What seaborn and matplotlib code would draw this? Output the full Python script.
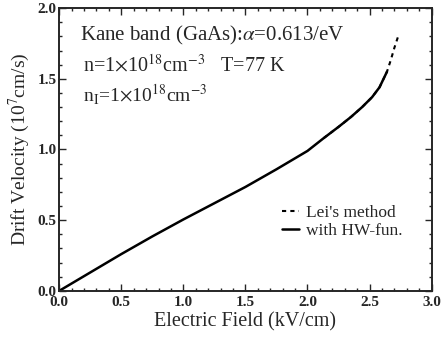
import numpy as np
import pandas as pd
import matplotlib
matplotlib.use("Agg")
import matplotlib.pyplot as plt
import seaborn as sns
from matplotlib.ticker import MultipleLocator

# values
field_hw = [0.0, 0.25, 0.5, 0.75, 1.0, 1.25, 1.5, 1.75, 2.0, 2.13, 2.25, 2.35, 2.44, 2.52, 2.58, 2.64]
vel_hw = [0.0, 0.13, 0.26, 0.385, 0.505, 0.62, 0.735, 0.86, 0.99, 1.08, 1.16, 1.23, 1.30, 1.37, 1.44, 1.55]
field_lei = [2.13, 2.25, 2.35, 2.44, 2.52, 2.58, 2.64, 2.67, 2.70, 2.73]
vel_lei = [1.08, 1.16, 1.23, 1.30, 1.37, 1.44, 1.55, 1.63, 1.72, 1.80]

sns.set_style("ticks")
plt.rcParams['font.family'] = ['Liberation Serif', 'DejaVu Serif']
plt.rcParams['mathtext.fontset'] = 'stix'

fig, ax = plt.subplots(figsize=(4.45, 3.39), dpi=100)
fig.subplots_adjust(left=0.133, right=0.97, top=0.976, bottom=0.142)

df_hw = pd.DataFrame({"E": field_hw, "v": vel_hw})
df_lei = pd.DataFrame({"E": field_lei, "v": vel_lei})
sns.lineplot(data=df_hw, x="E", y="v", ax=ax, color="black", lw=1.8, label="with HW-fun.")
sns.lineplot(data=df_lei, x="E", y="v", ax=ax, color="black", lw=1.5, ls=(0, (2, 2)), label="Lei's method")

ax.set_xlim(0, 3.0)
ax.set_ylim(0, 2.0)
ax.xaxis.set_major_locator(MultipleLocator(0.5))
ax.xaxis.set_minor_locator(MultipleLocator(0.1))
ax.yaxis.set_major_locator(MultipleLocator(0.5))
ax.yaxis.set_minor_locator(MultipleLocator(0.1))
ax.tick_params(which="both", direction="in", top=True, right=True, labelsize=11, width=1)
ax.tick_params(axis="x", pad=4)
ax.tick_params(axis="y", pad=2)
ax.tick_params(which="major", length=5)
ax.tick_params(which="minor", length=2.5)
for lab in ax.get_xticklabels() + ax.get_yticklabels():
    lab.set_fontweight("bold")
for s in ax.spines.values():
    s.set_linewidth(1.4)

ax.set_xlabel("Electric Field (kV/cm)", fontsize=14.5, labelpad=2)
ax.set_ylabel(r"Drift Velocity (10$^7$cm/s)", fontsize=14, labelpad=4)

ax.text(0.17, 1.81, r"Kane band (GaAs):$\alpha$=0.613/eV", fontsize=15, va="center")
ax.text(0.19, 1.60, r"n=1$\times$10$^{18}$cm$^{-3}$   T=77 K", fontsize=14.5, va="center")
ax.text(0.19, 1.385, r"n$_\mathrm{I}$=1$\times$10$^{18}$cm$^{-3}$", fontsize=14, va="center")

h, l = ax.get_legend_handles_labels()
ax.legend(h[::-1], l[::-1], loc="lower right", bbox_to_anchor=(0.94, 0.16), frameon=False,
          fontsize=12.5, handlelength=1.0, handletextpad=0.4, labelspacing=0.1,
          borderaxespad=0)

fig.savefig("out.png", dpi=100)
